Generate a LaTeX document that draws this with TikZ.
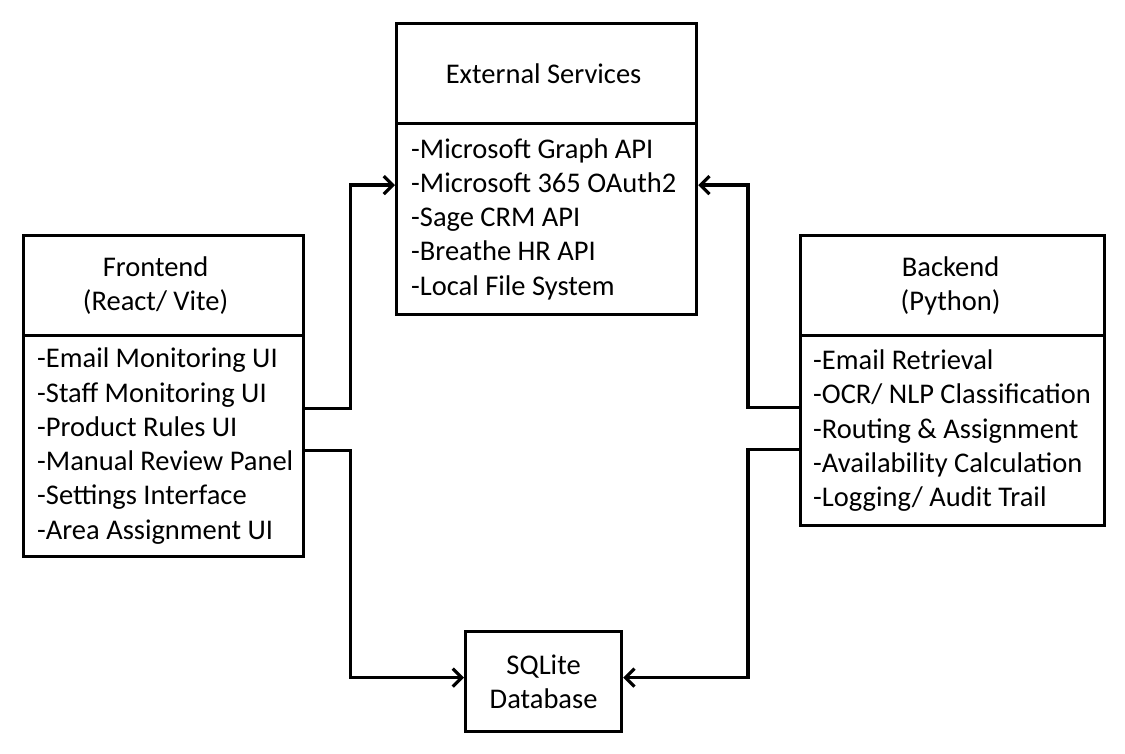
\documentclass[tikz,border=0pt]{standalone}
\usepackage{fontspec}
\setmainfont{Carlito}
\usetikzlibrary{arrows.meta}
\begin{document}
\begin{tikzpicture}[x=1pt,y=-1pt,
  txt/.style={font=\fontsize{28.5}{34.3}\selectfont,inner sep=0pt},
  box/.style={draw,line width=3.2pt,inner sep=0pt,anchor=north west},
  titletext/.style={txt,align=center},
  listtext/.style={txt,align=left,anchor=west},
  conn/.style={line width=3.2pt,-{Straight Barb[length=9pt,width=18pt]}}]
\useasboundingbox (0,0) rectangle (1125,754);
% External services
\node[box,minimum width=300pt,minimum height=100pt] (exttitle) at (395,22) {};
\node[titletext] (extname) at ([xshift=-3pt]exttitle.center) {External Services};
\node[box,minimum width=300pt,minimum height=191pt] (extlist) at (395,122) {};
\node[listtext] (exttext) at ([xshift=16pt]extlist.west)
  {-Microsoft Graph API\\-Microsoft 365 OAuth2\\-Sage CRM API\\-Breathe HR API\\-Local File System};
% Frontend
\node[box,minimum width=280pt,minimum height=100pt] (fetitle) at (22,234) {};
\node[titletext] (fename) at ([xshift=-8pt]fetitle.center) {Frontend\\(React/ Vite)};
\node[box,minimum width=280pt,minimum height=221pt] (felist) at (22,334) {};
\node[listtext] (fetext) at ([xshift=15pt]felist.west)
  {-Email Monitoring UI\\-Staff Monitoring UI\\-Product Rules UI\\-Manual Review Panel\\-Settings Interface\\-Area Assignment UI};
% Backend
\node[box,minimum width=304pt,minimum height=100pt] (betitle) at (799,234) {};
\node[titletext] (bename) at ([xshift=-2pt]betitle.center) {Backend\\(Python)};
\node[box,minimum width=304pt,minimum height=190pt] (belist) at (799,334) {};
\node[listtext] (betext) at ([xshift=14pt]belist.west)
  {-Email Retrieval\\-OCR/ NLP Classification\\-Routing \& Assignment\\-Availability Calculation\\-Logging/ Audit Trail};
% Database
\node[box,minimum width=156pt,minimum height=100pt] (db) at (464,630) {};
\node[titletext] (dbname) at (db.center) {SQLite\\Database};
% Connectors
\draw[conn] ([yshift=38pt]felist.east) -- ++(45,0) |- ([yshift=34pt]extlist.west);
\draw[conn] ([yshift=-4pt]felist.east) -- ++(45,0) |- ([yshift=4pt]db.west);
\draw[conn] ([yshift=23pt]belist.west) -- ++(-51,0) |- ([yshift=34pt]extlist.east);
\draw[conn] ([yshift=-19pt]belist.west) -- ++(-51,0) |- ([yshift=4pt]db.east);
\end{tikzpicture}
\end{document}
